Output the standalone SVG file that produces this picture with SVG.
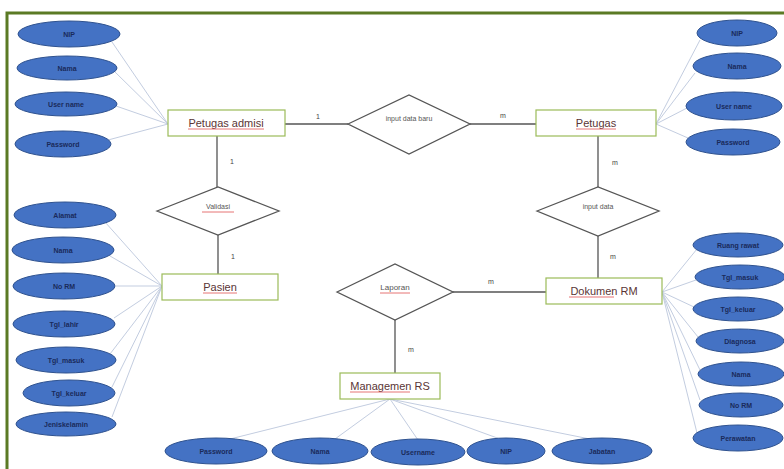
<svg xmlns="http://www.w3.org/2000/svg" width="784" height="469" viewBox="0 0 784 469">
<defs>
<style>
.frame{stroke:#5b7a25;stroke-width:3;fill:none}
.ent rect{fill:#fff;stroke:#9bbb59;stroke-width:1.2}
.ent text{font-family:"Liberation Sans",Arial,sans-serif;font-size:11px;fill:#5a3535;text-anchor:middle}
.ul{stroke:#e05050;stroke-width:0.8;fill:none}
.rel polygon{fill:#fff;stroke:#555;stroke-width:1.3}
.rel text{font-family:"Liberation Sans",Arial,sans-serif;font-size:7px;fill:#555;text-anchor:middle}
.att ellipse{fill:#4472c4;stroke:#2f528f;stroke-width:1}
.att text{font-family:"Liberation Sans",Arial,sans-serif;font-size:7px;font-weight:bold;fill:#1a2a5a;text-anchor:middle}
.al{stroke:#c3cde0;stroke-width:1;fill:none}
.rl{stroke:#555;stroke-width:1.3;fill:none}
.card{font-family:"Liberation Sans",Arial,sans-serif;font-size:7px;fill:#444;text-anchor:middle}
</style>
</defs>
<rect width="784" height="469" fill="#fff"/>
<path class="frame" d="M7,469 V13 H784"/>
<g id="connectors">
<!-- attribute lines: Petugas admisi -->
<path class="al" d="M168,124 L112,42 M168,124 L115,72 M168,124 L116,106 M168,124 L108,140"/>
<!-- Petugas -->
<path class="al" d="M656,124 L700,40 M656,124 L695,73 M656,124 L687,108 M656,124 L688,138"/>
<!-- Pasien -->
<path class="al" d="M162,286 L105,222 M162,286 L110,256 M162,286 L116,286 M162,286 L114,318 M162,286 L110,354 M162,286 L112,387 M162,286 L112,417"/>
<!-- Dokumen RM -->
<path class="al" d="M662,292 L697,249 M662,292 L696,280 M662,292 L694,307 M662,292 L698,337 M662,292 L700,370 M662,292 L700,400 M662,292 L697,433"/>
<!-- Managemen RS -->
<path class="al" d="M390,399 L230,439 M390,399 L335,439 M390,399 L418,440 M390,399 L500,439 M390,399 L590,439"/>
<!-- relationship lines -->
<path class="rl" d="M285,124 H348 M470,124 H536 M217,136 V187 M218,235 V274 M598,136 V187 M598,236 V278 M453,292 H546 M395,320 V373"/>
<text class="card" x="318" y="119">1</text>
<text class="card" x="503" y="118">m</text>
<text class="card" x="232" y="164">1</text>
<text class="card" x="233" y="259">1</text>
<text class="card" x="615" y="165">m</text>
<text class="card" x="613" y="259">m</text>
<text class="card" x="491" y="284">m</text>
<text class="card" x="411" y="352">m</text>
</g>
<g id="rel-input-data-baru" class="rel"><polygon points="348,124 409,95 470,124 409,154"/><text x="409" y="121">input data baru</text></g>
<g id="rel-validasi" class="rel"><polygon points="157,211 218,187 279,211 218,235"/><text x="218" y="209">Validasi</text><line class="ul" x1="202" y1="212" x2="234" y2="212"/></g>
<g id="rel-input-data" class="rel"><polygon points="537,211 598,187 659,211 598,236"/><text x="598" y="209">input data</text></g>
<g id="rel-laporan" class="rel"><polygon points="337,292 395,264 453,292 395,320"/><text x="395" y="290" style="font-size:8px">Laporan</text><line class="ul" x1="380" y1="293" x2="410" y2="293"/></g>

<g id="ent-petugas-admisi" class="ent"><rect x="168" y="110" width="117" height="26"/><text x="226" y="127">Petugas admisi</text><line class="ul" x1="188" y1="129" x2="264" y2="129"/></g>
<g id="ent-petugas" class="ent"><rect x="536" y="110" width="120" height="26"/><text x="596" y="127">Petugas</text><line class="ul" x1="576" y1="129" x2="616" y2="129"/></g>
<g id="ent-pasien" class="ent"><rect x="162" y="274" width="116" height="26"/><text x="220" y="291">Pasien</text><line class="ul" x1="203" y1="293" x2="237" y2="293"/></g>
<g id="ent-dokumen-rm" class="ent"><rect x="546" y="278" width="116" height="26"/><text x="604" y="295">Dokumen RM</text><line class="ul" x1="569" y1="297" x2="614" y2="297"/></g>
<g id="ent-managemen-rs" class="ent"><rect x="340" y="373" width="100" height="26"/><text x="390" y="390">Managemen RS</text><line class="ul" x1="350" y1="392" x2="410" y2="392"/></g>

<g id="att-pa-nip" class="att"><ellipse cx="69" cy="34" rx="51" ry="13"/><text x="69" y="37">NIP</text></g>
<g id="att-pa-nama" class="att"><ellipse cx="67" cy="68" rx="50" ry="12"/><text x="67" y="71">Nama</text></g>
<g id="att-pa-username" class="att"><ellipse cx="66" cy="104" rx="51" ry="12"/><text x="66" y="107">User name</text></g>
<g id="att-pa-password" class="att"><ellipse cx="63" cy="144" rx="48" ry="13"/><text x="63" y="147">Password</text></g>

<g id="att-pt-nip" class="att"><ellipse cx="737" cy="33" rx="40" ry="13"/><text x="737" y="36">NIP</text></g>
<g id="att-pt-nama" class="att"><ellipse cx="737" cy="66" rx="44" ry="13"/><text x="737" y="69">Nama</text></g>
<g id="att-pt-username" class="att"><ellipse cx="734" cy="106" rx="48" ry="14"/><text x="734" y="109">User name</text></g>
<g id="att-pt-password" class="att"><ellipse cx="733" cy="142" rx="47" ry="13"/><text x="733" y="145">Password</text></g>

<g id="att-ps-alamat" class="att"><ellipse cx="65" cy="215" rx="51" ry="13"/><text x="65" y="218">Alamat</text></g>
<g id="att-ps-nama" class="att"><ellipse cx="63" cy="250" rx="51" ry="13"/><text x="63" y="253">Nama</text></g>
<g id="att-ps-norm" class="att"><ellipse cx="64" cy="286" rx="51" ry="13"/><text x="64" y="289">No RM</text></g>
<g id="att-ps-tgllahir" class="att"><ellipse cx="64" cy="324" rx="51" ry="13"/><text x="64" y="327">Tgl_lahir</text></g>
<g id="att-ps-tglmasuk" class="att"><ellipse cx="66" cy="360" rx="50" ry="13"/><text x="66" y="363">Tgl_masuk</text></g>
<g id="att-ps-tglkeluar" class="att"><ellipse cx="69" cy="393" rx="46" ry="13"/><text x="69" y="396">Tgl_keluar</text></g>
<g id="att-ps-jk" class="att"><ellipse cx="66" cy="424" rx="50" ry="12"/><text x="66" y="427">Jeniskelamin</text></g>

<g id="att-dk-ruang" class="att"><ellipse cx="738" cy="245" rx="45" ry="12"/><text x="738" y="248">Ruang rawat</text></g>
<g id="att-dk-tglmasuk" class="att"><ellipse cx="740" cy="277" rx="45" ry="12"/><text x="740" y="280">Tgl_masuk</text></g>
<g id="att-dk-tglkeluar" class="att"><ellipse cx="738" cy="309" rx="45" ry="12"/><text x="738" y="312">Tgl_keluar</text></g>
<g id="att-dk-diagnosa" class="att"><ellipse cx="740" cy="341" rx="44" ry="12"/><text x="740" y="344">Diagnosa</text></g>
<g id="att-dk-nama" class="att"><ellipse cx="741" cy="374" rx="43" ry="12"/><text x="741" y="377">Nama</text></g>
<g id="att-dk-norm" class="att"><ellipse cx="741" cy="405" rx="42" ry="12"/><text x="741" y="408">No RM</text></g>
<g id="att-dk-perawatan" class="att"><ellipse cx="738" cy="438" rx="45" ry="13"/><text x="738" y="441">Perawatan</text></g>

<g id="att-mr-password" class="att"><ellipse cx="216" cy="451" rx="51" ry="13"/><text x="216" y="454">Password</text></g>
<g id="att-mr-nama" class="att"><ellipse cx="320" cy="451" rx="48" ry="13"/><text x="320" y="454">Nama</text></g>
<g id="att-mr-username" class="att"><ellipse cx="418" cy="452" rx="47" ry="13"/><text x="418" y="455">Username</text></g>
<g id="att-mr-nip" class="att"><ellipse cx="506" cy="451" rx="39" ry="13"/><text x="506" y="454">NIP</text></g>
<g id="att-mr-jabatan" class="att"><ellipse cx="602" cy="451" rx="50" ry="13"/><text x="602" y="454">Jabatan</text></g>
</svg>
